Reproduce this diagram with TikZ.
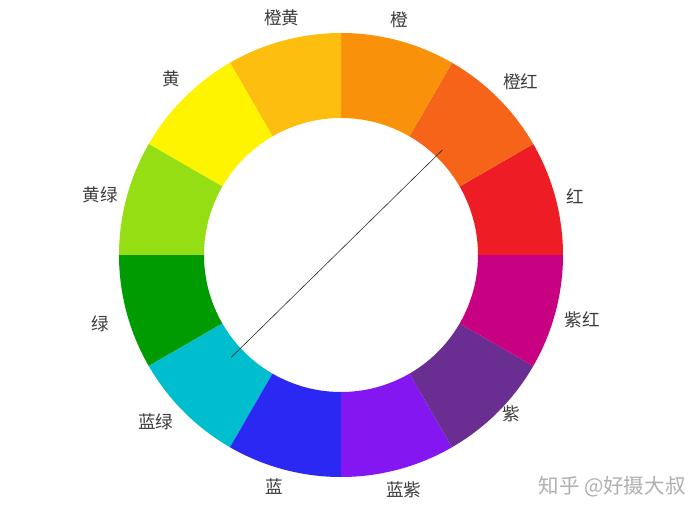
\documentclass[tikz,border=0pt]{standalone}
\usepackage{fontspec}
\usepackage{xcolor}
\usepackage{tikz}
\newfontfamily\cjk{Noto Sans CJK SC}
\definecolor{wheelred}{RGB}{238,28,36}
\definecolor{wheelorangered}{RGB}{245,100,25}
\definecolor{wheelorange}{RGB}{250,145,10}
\definecolor{wheelorangeyellow}{RGB}{253,190,15}
\definecolor{wheelyellow}{RGB}{255,244,0}
\definecolor{wheelyellowgreen}{RGB}{150,222,20}
\definecolor{wheelgreen}{RGB}{0,155,0}
\definecolor{wheelbluegreen}{RGB}{0,190,205}
\definecolor{wheelblue}{RGB}{42,40,242}
\definecolor{wheelblueviolet}{RGB}{132,22,242}
\definecolor{wheelviolet}{RGB}{106,46,146}
\definecolor{wheelmagenta}{RGB}{200,0,130}
\definecolor{labelgray}{RGB}{60,60,60}
\definecolor{markgray}{RGB}{175,175,175}

\begin{document}
\begin{tikzpicture}[x=0.3mm, y=0.3mm,
  huelabel/.style={text=labelgray, font=\cjk\fontsize{15}{18}\selectfont, inner sep=0pt}]
\useasboundingbox (-341,-260) rectangle (359,255);

% ring segments, counterclockwise from the right
\foreach \col [count=\i from 0] in {wheelred, wheelorangered, wheelorange, wheelorangeyellow,
  wheelyellow, wheelyellowgreen, wheelgreen, wheelbluegreen, wheelblue, wheelblueviolet,
  wheelviolet, wheelmagenta}
{
  \pgfmathsetmacro\a{\i*30}
  \pgfmathsetmacro\b{\i*30+30}
  \fill[\col] (\a:137) -- (\a:222) arc[start angle=\a, end angle=\b, radius=222]
    -- (\b:137) arc[start angle=\b, end angle=\a, radius=137] -- cycle;
}

% names of the hues
\foreach \name/\ang/\dist [count=\k] in {红/14/241, 橙红/44/250, 橙/76/242, 橙黄/104/244,
  黄/134/245, 黄绿/166/248, 绿/-164/250, 蓝绿/-138/249, 蓝/-106/241, 蓝紫/-75/243,
  紫/-43/233, 紫红/-15/250}
  \node (hue\k) [huelabel] at (\ang:\dist) {\name};

% diameter across the ring
\coordinate (tipA) at (46:146);
\coordinate (tipB) at (223:150);
\draw[black!85, line width=0.5pt] (tipA) -- (tipB);

\node (mark) [text=markgray, font=\cjk\fontsize{17.5}{20}\selectfont, inner sep=0pt] at (271,-232) {知乎 @好摄大叔};
\end{tikzpicture}
\end{document}
